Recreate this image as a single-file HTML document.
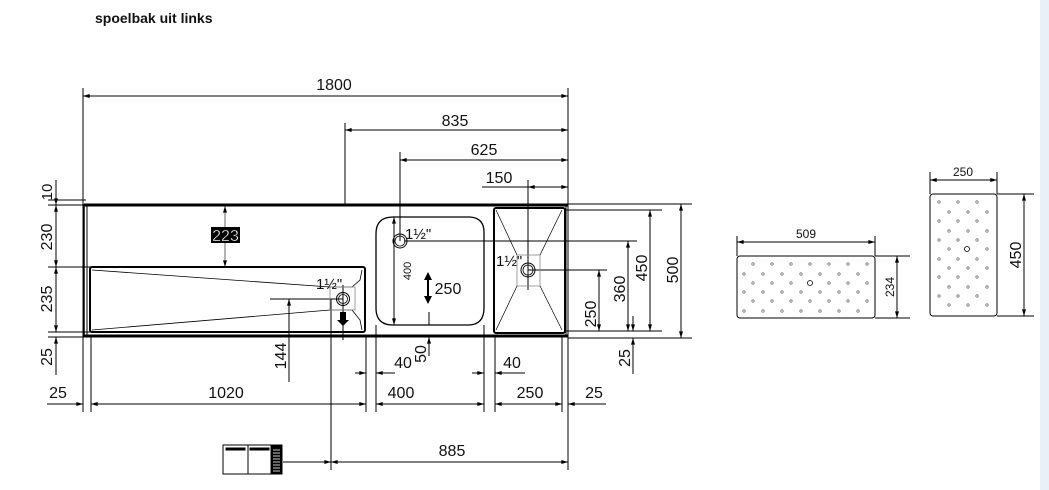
<!DOCTYPE html>
<html><head><meta charset="utf-8"><style>
html,body{margin:0;padding:0;background:#fff;}
svg{display:block;}
text{font-family:"Liberation Sans",Arial,sans-serif;fill:#111;}
</style></head><body>
<svg width="1049" height="490" viewBox="0 0 1049 490" xmlns="http://www.w3.org/2000/svg">
<defs>
<marker id="a" viewBox="0 0 10 6" refX="10" refY="3" markerWidth="8" markerHeight="4" orient="auto-start-reverse" markerUnits="userSpaceOnUse"><path d="M0,0 L10,3 L0,6z" fill="#000"/></marker>
</defs>
<rect x="1040" y="0" width="9" height="490" fill="#eaf0f8"/>
<text x="95" y="23" font-size="14" font-weight="bold">spoelbak uit links</text>

<g stroke="#000" stroke-width="1" fill="none">
<line x1="83" y1="88" x2="83" y2="412"/>
<line x1="568" y1="88" x2="568" y2="470"/>
<line x1="345" y1="123" x2="345" y2="204"/>
<line x1="400" y1="152" x2="400" y2="241"/>
<line x1="528" y1="180" x2="528" y2="290"/>
<line x1="91" y1="336" x2="91" y2="412"/>
<line x1="366" y1="336" x2="366" y2="412"/>
<line x1="376" y1="325" x2="376" y2="412"/>
<line x1="484" y1="325" x2="484" y2="412"/>
<line x1="495" y1="336" x2="495" y2="412"/>
<line x1="562" y1="336" x2="562" y2="412"/>
<line x1="331" y1="299" x2="331" y2="470"/>
<line x1="289" y1="299" x2="289" y2="382"/>
<line x1="343" y1="285" x2="343" y2="340"/>
<line x1="83" y1="96" x2="568" y2="96" marker-start="url(#a)" marker-end="url(#a)"/>
<line x1="345" y1="130" x2="568" y2="130" marker-start="url(#a)" marker-end="url(#a)"/>
<line x1="400" y1="160" x2="568" y2="160" marker-start="url(#a)" marker-end="url(#a)"/>
<line x1="482" y1="187" x2="528" y2="187"/>
<line x1="528" y1="187" x2="568" y2="187" marker-start="url(#a)" marker-end="url(#a)"/>
<line x1="48" y1="200" x2="86" y2="200"/>
<line x1="48" y1="205" x2="86" y2="205"/>
<line x1="48" y1="267" x2="92" y2="267"/>
<line x1="48" y1="332" x2="92" y2="332"/>
<line x1="48" y1="337" x2="86" y2="337"/>
<line x1="56" y1="180" x2="56" y2="205" marker-end="url(#a)"/>
<line x1="56" y1="205" x2="56" y2="267" marker-start="url(#a)" marker-end="url(#a)"/>
<line x1="56" y1="267" x2="56" y2="332" marker-start="url(#a)" marker-end="url(#a)"/>
<line x1="56" y1="337" x2="56" y2="375" marker-start="url(#a)"/>
<line x1="568" y1="204" x2="692" y2="204"/>
<line x1="565" y1="210" x2="662" y2="210"/>
<line x1="404" y1="241" x2="637" y2="241"/>
<line x1="528" y1="270" x2="607" y2="270"/>
<line x1="565" y1="331" x2="662" y2="331"/>
<line x1="568" y1="338" x2="692" y2="338"/>
<line x1="681" y1="204" x2="681" y2="338" marker-start="url(#a)" marker-end="url(#a)"/>
<line x1="650" y1="210" x2="650" y2="331" marker-start="url(#a)" marker-end="url(#a)"/>
<line x1="628" y1="241" x2="628" y2="331" marker-start="url(#a)" marker-end="url(#a)"/>
<line x1="599" y1="270" x2="599" y2="331" marker-start="url(#a)" marker-end="url(#a)"/>
<line x1="633" y1="316" x2="633" y2="331" marker-end="url(#a)"/>
<line x1="633" y1="338" x2="633" y2="374" marker-start="url(#a)"/>
<line x1="355" y1="373" x2="366" y2="373" marker-end="url(#a)"/>
<line x1="376" y1="373" x2="395" y2="373" marker-start="url(#a)"/>
<line x1="472" y1="373" x2="484" y2="373" marker-end="url(#a)"/>
<line x1="495" y1="373" x2="525" y2="373" marker-start="url(#a)"/>
<line x1="47" y1="404" x2="83" y2="404" marker-end="url(#a)"/>
<line x1="91" y1="404" x2="366" y2="404" marker-start="url(#a)" marker-end="url(#a)"/>
<line x1="376" y1="404" x2="484" y2="404" marker-start="url(#a)" marker-end="url(#a)"/>
<line x1="495" y1="404" x2="562" y2="404" marker-start="url(#a)" marker-end="url(#a)"/>
<line x1="568" y1="404" x2="606" y2="404" marker-start="url(#a)"/>
<line x1="283" y1="462" x2="331" y2="462" marker-end="url(#a)"/>
<line x1="331" y1="462" x2="568" y2="462" marker-start="url(#a)" marker-end="url(#a)"/>
<line x1="289" y1="382" x2="289" y2="299" marker-end="url(#a)"/>
<line x1="270" y1="299" x2="343" y2="299"/>
<line x1="429" y1="356" x2="429" y2="337" marker-end="url(#a)"/>
<line x1="429" y1="325" x2="429" y2="312"/>
<line x1="225" y1="206" x2="225" y2="228" stroke="#666" marker-start="url(#a)"/>
<line x1="225" y1="243" x2="225" y2="267" stroke="#666" marker-end="url(#a)"/>
<line x1="394" y1="217" x2="394" y2="325" marker-start="url(#a)" marker-end="url(#a)"/>
</g>

<g stroke="#000" fill="none">
<line x1="84" y1="205" x2="568" y2="205" stroke-width="3"/>
<line x1="84" y1="336" x2="568" y2="336" stroke-width="3"/>
<line x1="84" y1="204" x2="84" y2="337" stroke-width="1.5"/>
<line x1="87" y1="206" x2="87" y2="336" stroke-width="1"/>
<rect x="90" y="267" width="275" height="65" rx="2" stroke-width="2"/>
<line x1="92" y1="270" x2="330" y2="287" stroke-width="0.8"/>
<line x1="92" y1="330" x2="330" y2="310" stroke-width="0.8"/>
<polyline points="330,287 352,287 360,280 362,270" stroke-width="0.8"/>
<polyline points="330,310 352,310 360,320 362,330" stroke-width="0.8"/>
<rect x="330" y="287" width="25" height="23" stroke="#888" stroke-width="0.8"/>
<circle cx="343" cy="299" r="6.5" stroke-width="1"/>
<circle cx="343" cy="299" r="4.5" stroke-width="0.8"/>
<path d="M393,217 L470,217 Q484,218 484,232 L484,308 Q484,325 468,325 L393,325 Q376,325 376,308 L376,234 Q376,217 393,217z" stroke-width="1.3"/>
<circle cx="400" cy="241" r="7" stroke-width="1"/>
<circle cx="400" cy="241" r="5" stroke-width="0.8"/>
<rect x="494" y="208" width="71" height="125" rx="2" stroke-width="2"/>
<line x1="566" y1="205" x2="566" y2="336" stroke-width="1"/>
<rect x="517" y="255" width="23" height="31" stroke="#888" stroke-width="0.8"/>
<line x1="496" y1="210" x2="517" y2="255" stroke-width="0.7"/>
<line x1="562" y1="210" x2="540" y2="255" stroke-width="0.7"/>
<line x1="496" y1="330" x2="517" y2="286" stroke-width="0.7"/>
<line x1="562" y1="330" x2="540" y2="286" stroke-width="0.7"/>
<circle cx="528" cy="270" r="7" stroke-width="1"/>
<circle cx="528" cy="270" r="5" stroke-width="0.8"/>
</g>
<path d="M340,312 h6 v8 h3 l-6,6 l-6,-6 h3z" fill="#000"/>
<path d="M428,272 l-4,8 h8z M428,304 l-4,-8 h8z" fill="#000"/>
<line x1="428" y1="278" x2="428" y2="298" stroke="#000" stroke-width="2"/>
<rect x="211" y="227" width="29" height="16" fill="#000"/>
<text x="225.5" y="241" font-size="16" text-anchor="middle" fill="#fff" style="fill:#fff" stroke="#000" stroke-width="0.4">223</text>

<g font-size="16">
<text x="334" y="90" text-anchor="middle">1800</text>
<text x="455" y="126" text-anchor="middle">835</text>
<text x="484" y="155" text-anchor="middle">625</text>
<text x="499" y="183" text-anchor="middle">150</text>
<text x="58" y="398" text-anchor="middle">25</text>
<text x="226" y="398" text-anchor="middle">1020</text>
<text x="401" y="398" text-anchor="middle">400</text>
<text x="530" y="398" text-anchor="middle">250</text>
<text x="594" y="398" text-anchor="middle">25</text>
<text x="403" y="368" text-anchor="middle">40</text>
<text x="512" y="368" text-anchor="middle">40</text>
<text x="452" y="456" text-anchor="middle">885</text>
<text x="448" y="294" text-anchor="middle">250</text>
<text transform="translate(52,192) rotate(-90)" text-anchor="middle" font-size="15">10</text>
<text transform="translate(52,237) rotate(-90)" text-anchor="middle">230</text>
<text transform="translate(52,299) rotate(-90)" text-anchor="middle">235</text>
<text transform="translate(52,357) rotate(-90)" text-anchor="middle">25</text>
<text transform="translate(286,356) rotate(-90)" text-anchor="middle">144</text>
<text transform="translate(426,354) rotate(-90)" text-anchor="middle">50</text>
<text transform="translate(630,358) rotate(-90)" text-anchor="middle">25</text>
<text transform="translate(596,314) rotate(-90)" text-anchor="middle">250</text>
<text transform="translate(625,289) rotate(-90)" text-anchor="middle">360</text>
<text transform="translate(647,268) rotate(-90)" text-anchor="middle">450</text>
<text transform="translate(678,270) rotate(-90)" text-anchor="middle">500</text>
<text transform="translate(411,271) rotate(-90)" text-anchor="middle" font-size="11">400</text>
<text x="316" y="289" font-size="15">1½"</text>
<text x="405" y="239" font-size="15">1½"</text>
<text x="496" y="266" font-size="15">1½"</text>
</g>

<g stroke="#000" fill="#fff" stroke-width="1">
<rect x="223" y="445" width="59" height="29"/>
<line x1="248" y1="445" x2="248" y2="474"/>
<line x1="271" y1="445" x2="271" y2="474"/>
<rect x="226" y="448" width="19" height="2" fill="#000"/>
<rect x="250" y="448" width="19" height="2" fill="#000"/>
<rect x="272" y="446" width="9" height="27" fill="#000"/>
</g>
<g stroke="#fff" stroke-width="0.8">
<line x1="273" y1="450" x2="280" y2="450"/><line x1="273" y1="453" x2="280" y2="453"/><line x1="273" y1="456" x2="280" y2="456"/><line x1="273" y1="459" x2="280" y2="459"/><line x1="273" y1="462" x2="280" y2="462"/><line x1="273" y1="465" x2="280" y2="465"/><line x1="273" y1="468" x2="280" y2="468"/><line x1="273" y1="471" x2="280" y2="471"/>
</g>

<g stroke="#000" fill="none" stroke-width="1">
<line x1="737" y1="236" x2="737" y2="256"/>
<line x1="875" y1="236" x2="875" y2="256"/>
<line x1="737" y1="242" x2="875" y2="242" marker-start="url(#a)" marker-end="url(#a)"/>
<rect x="737" y="256" width="138" height="62" rx="3"/>
<line x1="875" y1="256" x2="910" y2="256"/>
<line x1="875" y1="318" x2="910" y2="318"/>
<line x1="897" y1="256" x2="897" y2="318" marker-start="url(#a)" marker-end="url(#a)"/>
<circle cx="810" cy="283" r="2.5" stroke-width="0.8"/>
<line x1="930" y1="172" x2="930" y2="194"/>
<line x1="997" y1="172" x2="997" y2="194"/>
<line x1="930" y1="180" x2="997" y2="180" marker-start="url(#a)" marker-end="url(#a)"/>
<rect x="930" y="194" width="67" height="122" rx="3"/>
<line x1="997" y1="194" x2="1034" y2="194"/>
<line x1="997" y1="316" x2="1034" y2="316"/>
<line x1="1024" y1="194" x2="1024" y2="316" marker-start="url(#a)" marker-end="url(#a)"/>
<circle cx="967" cy="249" r="2.5" stroke-width="0.8"/>
</g>
<g fill="#fff" stroke="#777" stroke-width="0.8">
<circle cx="753" cy="264" r="1.2"/><circle cx="772" cy="264" r="1.2"/><circle cx="791" cy="264" r="1.2"/><circle cx="810" cy="264" r="1.2"/><circle cx="829" cy="264" r="1.2"/><circle cx="848" cy="264" r="1.2"/><circle cx="867" cy="264" r="1.2"/>
<circle cx="744" cy="274" r="1.2"/><circle cx="763" cy="274" r="1.2"/><circle cx="782" cy="274" r="1.2"/><circle cx="801" cy="274" r="1.2"/><circle cx="820" cy="274" r="1.2"/><circle cx="839" cy="274" r="1.2"/><circle cx="858" cy="274" r="1.2"/>
<circle cx="753" cy="283" r="1.2"/><circle cx="772" cy="283" r="1.2"/><circle cx="791" cy="283" r="1.2"/><circle cx="829" cy="283" r="1.2"/><circle cx="848" cy="283" r="1.2"/><circle cx="867" cy="283" r="1.2"/>
<circle cx="744" cy="292" r="1.2"/><circle cx="763" cy="292" r="1.2"/><circle cx="782" cy="292" r="1.2"/><circle cx="801" cy="292" r="1.2"/><circle cx="820" cy="292" r="1.2"/><circle cx="839" cy="292" r="1.2"/><circle cx="858" cy="292" r="1.2"/>
<circle cx="753" cy="301" r="1.2"/><circle cx="772" cy="301" r="1.2"/><circle cx="791" cy="301" r="1.2"/><circle cx="810" cy="301" r="1.2"/><circle cx="829" cy="301" r="1.2"/><circle cx="848" cy="301" r="1.2"/><circle cx="867" cy="301" r="1.2"/>
<circle cx="744" cy="311" r="1.2"/><circle cx="763" cy="311" r="1.2"/><circle cx="782" cy="311" r="1.2"/><circle cx="801" cy="311" r="1.2"/><circle cx="820" cy="311" r="1.2"/><circle cx="839" cy="311" r="1.2"/><circle cx="858" cy="311" r="1.2"/>
<circle cx="939" cy="202" r="1.2"/><circle cx="958" cy="202" r="1.2"/><circle cx="977" cy="202" r="1.2"/>
<circle cx="949" cy="212" r="1.2"/><circle cx="968" cy="212" r="1.2"/><circle cx="987" cy="212" r="1.2"/>
<circle cx="939" cy="221" r="1.2"/><circle cx="958" cy="221" r="1.2"/><circle cx="977" cy="221" r="1.2"/>
<circle cx="949" cy="231" r="1.2"/><circle cx="968" cy="231" r="1.2"/><circle cx="987" cy="231" r="1.2"/>
<circle cx="939" cy="240" r="1.2"/><circle cx="958" cy="240" r="1.2"/><circle cx="977" cy="240" r="1.2"/>
<circle cx="949" cy="249" r="1.2"/><circle cx="987" cy="249" r="1.2"/>
<circle cx="939" cy="259" r="1.2"/><circle cx="958" cy="259" r="1.2"/><circle cx="977" cy="259" r="1.2"/>
<circle cx="949" cy="268" r="1.2"/><circle cx="968" cy="268" r="1.2"/><circle cx="987" cy="268" r="1.2"/>
<circle cx="939" cy="277" r="1.2"/><circle cx="958" cy="277" r="1.2"/><circle cx="977" cy="277" r="1.2"/>
<circle cx="949" cy="287" r="1.2"/><circle cx="968" cy="287" r="1.2"/><circle cx="987" cy="287" r="1.2"/>
<circle cx="939" cy="296" r="1.2"/><circle cx="958" cy="296" r="1.2"/><circle cx="977" cy="296" r="1.2"/>
<circle cx="949" cy="305" r="1.2"/><circle cx="968" cy="305" r="1.2"/><circle cx="987" cy="305" r="1.2"/>
</g>
<g font-size="12">
<text x="806" y="238" text-anchor="middle">509</text>
<text x="963" y="176" text-anchor="middle">250</text>
<text transform="translate(894,287) rotate(-90)" text-anchor="middle">234</text>
<text transform="translate(1021,255) rotate(-90)" text-anchor="middle" font-size="16">450</text>
</g>
</svg>
</body></html>
